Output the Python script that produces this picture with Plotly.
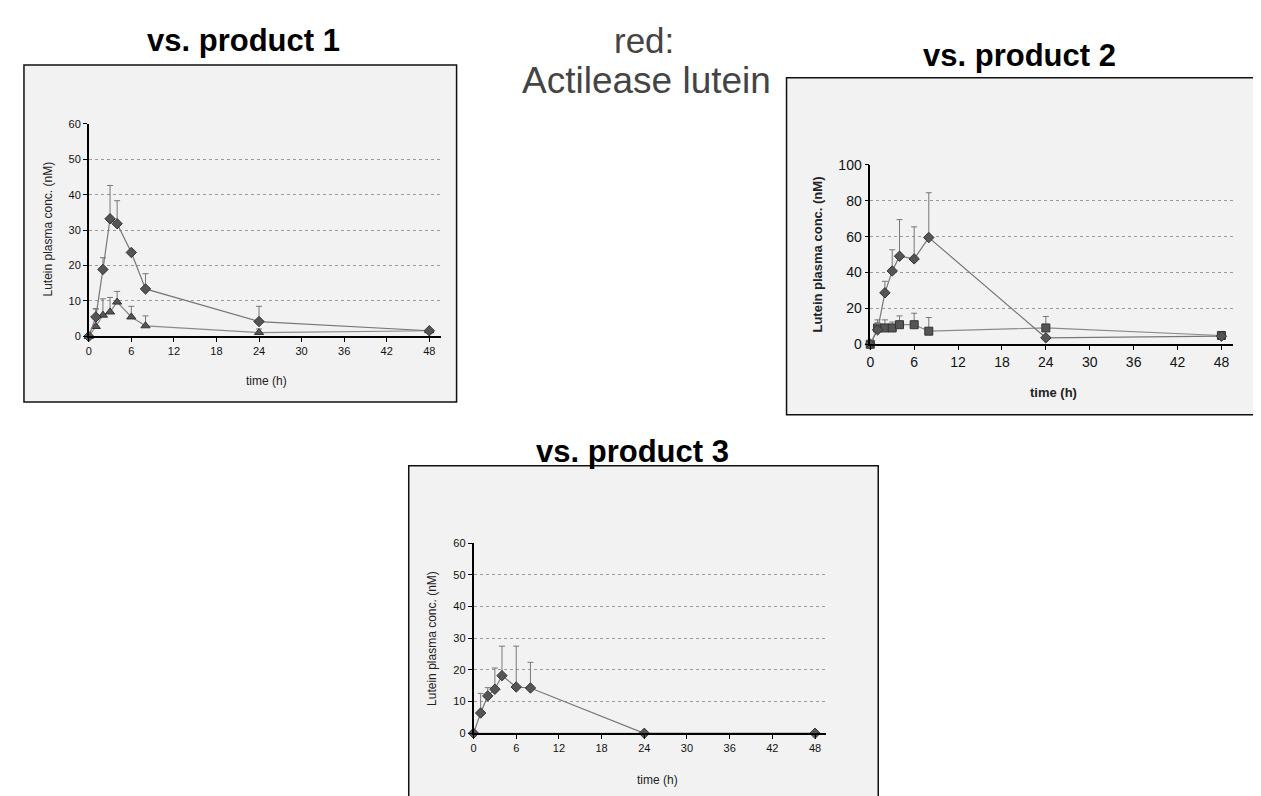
import plotly.graph_objects as go

W, H = 1261, 796

# ---------------- data ----------------
times = [0, 1, 2, 3, 4, 6, 8, 24, 48]

# panel 1: Actilease lutein vs product 1
p1_actilease = [0, 5.5, 18.9, 33.2, 31.8, 23.7, 13.4, 4.2, 1.6]
p1_actilease_err = [0, 2.3, 3.3, 9.4, 6.5, 0, 4.3, 4.3, 0]
p1_product = [0, 2.8, 6.0, 6.9, 9.7, 5.5, 3.0, 1.1, 1.6]
p1_product_err = [0, 5.0, 4.6, 4.1, 3.0, 3.0, 2.8, 1.0, 0]

# panel 2: Actilease lutein vs product 2
p2_actilease = [0, 8.0, 28.7, 40.9, 49.1, 47.6, 59.5, 3.6, 4.5]
p2_actilease_err = [0, 4.0, 6.4, 11.8, 20.4, 17.9, 25.0, 0, 0]
p2_product = [0, 9.1, 9.1, 9.1, 10.9, 10.9, 7.3, 9.1, 4.9]
p2_product_err = [0, 4.5, 4.5, 3.3, 4.9, 6.4, 7.6, 6.4, 0]

# panel 3: Actilease lutein vs product 3
p3_actilease = [0, 6.4, 11.8, 13.9, 18.2, 14.6, 14.3, 0, 0]
p3_actilease_err = [0, 6.2, 2.6, 6.7, 9.3, 12.9, 8.1, 0, 0]
p3_product = [0, 0, 0, 0, 0, 0, 0, 0, 0]

x_ticks = [0, 6, 12, 18, 24, 30, 36, 42, 48]
y_ticks_60 = [0, 10, 20, 30, 40, 50, 60]
y_ticks_100 = [0, 20, 40, 60, 80, 100]

FONT = "Liberation Sans, Arial, sans-serif"


def px(x):
    return x / W


def py(y):
    return 1 - y / H


fig = go.Figure()

panels = [
    dict(n="", xd=(77, 430), yd=(110, 327), yr=[0, 60], yt=y_ticks_60,
         a=p1_actilease, ae=p1_actilease_err, p=p1_product, pe=p1_product_err,
         psym="triangle-up", pmode="lines+markers", fs=11),
    dict(n="2", xd=(861, 1225), yd=(152, 335), yr=[0, 100], yt=y_ticks_100,
         a=p2_actilease, ae=p2_actilease_err, p=p2_product, pe=p2_product_err,
         psym="square", pmode="lines+markers", fs=14),
    dict(n="3", xd=(463, 817), yd=(538, 732), yr=[0, 60], yt=y_ticks_60,
         a=p3_actilease, ae=p3_actilease_err, p=p3_product, pe=None,
         psym="diamond", pmode="lines", fs=11),
]

XMAX = 49.6
layout_axes = {}
for pn in panels:
    n = pn["n"]
    xa, ya = "x" + n, "y" + n
    # comparison product series
    fig.add_trace(go.Scatter(
        x=times, y=pn["p"], mode=pn["pmode"], xaxis=xa, yaxis=ya,
        line=dict(color="#8a8a8a", width=1.2),
        marker=dict(symbol=pn["psym"], size=8,
                    color="#555555", line=dict(color="#333333", width=1)),
        error_y=(dict(type="data", symmetric=False, array=pn["pe"],
                      arrayminus=[0] * len(times), color="#777777",
                      thickness=1, width=3) if pn["pe"] else None),
        cliponaxis=False, showlegend=False))
    # Actilease lutein series
    fig.add_trace(go.Scatter(
        x=times, y=pn["a"], mode="lines+markers", xaxis=xa, yaxis=ya,
        line=dict(color="#777777", width=1.2),
        marker=dict(symbol="diamond", size=8, color="#555555",
                    line=dict(color="#333333", width=1)),
        error_y=dict(type="data", symmetric=False, array=pn["ae"],
                     arrayminus=[0] * len(times), color="#777777",
                     thickness=1, width=3),
        cliponaxis=False, showlegend=False))
    tickfont = dict(family=FONT, size=pn["fs"], color="#111111")
    layout_axes["xaxis" + n] = dict(
        domain=[px(pn["xd"][0]), px(pn["xd"][1])], anchor=ya,
        range=[0, XMAX], tickvals=x_ticks, ticks="outside", ticklen=4,
        tickcolor="#000", showline=True, linecolor="#000", linewidth=1.5,
        showgrid=False, zeroline=False, tickfont=tickfont)
    layout_axes["yaxis" + n] = dict(
        domain=[py(pn["yd"][1]), py(pn["yd"][0])], anchor=xa,
        range=pn["yr"], tickvals=pn["yt"], ticks="outside", ticklen=4,
        tickcolor="#000", showline=True, linecolor="#000", linewidth=1.5,
        showgrid=True, gridcolor="#9a9a9a", griddash="dot", gridwidth=1,
        zeroline=False, tickfont=tickfont)

fig.update_layout(**layout_axes)

# boxes around each chart
shapes = []
for (x0, y0, x1, y1) in [(12, 50, 446, 394), (777, 63, 1263, 407), (398, 459, 869, 798)]:
    shapes.append(dict(type="rect", xref="paper", yref="paper",
                       x0=px(x0), x1=px(x1), y0=py(y1), y1=py(y0),
                       line=dict(color="#111111", width=1.5),
                       fillcolor="#f2f2f2", layer="below"))

annotations = []


def ann(text, x, y, size, bold=False, color="#000", angle=0):
    annotations.append(dict(
        text=("<b>%s</b>" % text) if bold else text, x=px(x), y=py(y),
        xref="paper", yref="paper", showarrow=False, xanchor="center",
        yanchor="middle", textangle=angle,
        font=dict(family=FONT, size=size, color=color)))


ann("vs. product 1", 232, 25, 31, bold=True)
ann("vs. product 2", 1011, 40, 31, bold=True)
ann("vs. product 3", 622, 444, 31, bold=True)
ann("red:", 634, 25, 35, color="#444444")
ann("Actilease lutein", 637, 66, 37, color="#444444")

# axis titles
ann("Lutein plasma conc. (nM)", 36, 217, 12, color="#222", angle=-90)
ann("time (h)", 255, 372, 12, color="#222")
ann("Lutein plasma conc. (nM)", 808, 243, 13, bold=True, color="#222", angle=-90)
ann("time (h)", 1045, 384, 13, bold=True, color="#222")
ann("Lutein plasma conc. (nM)", 422, 635, 12, color="#222", angle=-90)
ann("time (h)", 648, 780, 12, color="#222")

fig.update_layout(
    width=W, height=H, margin=dict(l=0, r=0, t=0, b=0),
    paper_bgcolor="white", plot_bgcolor="rgba(0,0,0,0)",
    shapes=shapes, annotations=annotations, showlegend=False,
    font=dict(family=FONT))

fig.write_html("out.html")
